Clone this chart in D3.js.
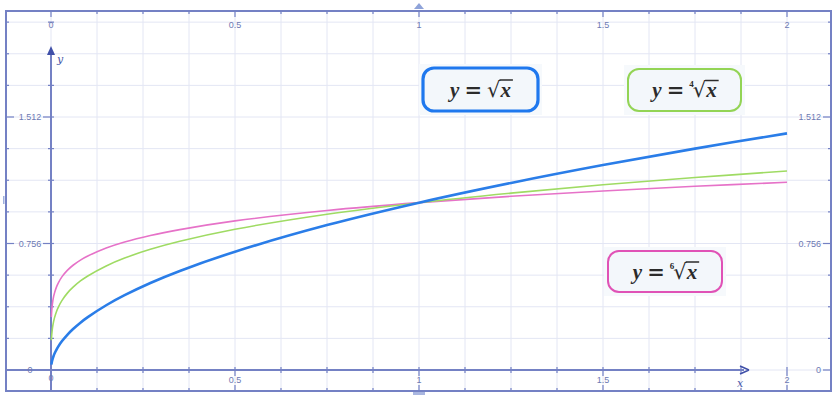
<!DOCTYPE html>
<html>
<head>
<meta charset="utf-8">
<script src="https://cdn.jsdelivr.net/npm/d3@7"></script>
<style>
  body { margin: 0; background: #fff; }
  svg { display: block; }
</style>
</head>
<body>
<svg width="832" height="396"></svg>
<script>
// values
const xVals = [0.001, 0.002, 0.004, 0.007, 0.01, 0.015, 0.02, 0.03, 0.045, 0.06, 0.08, 0.1, 0.15, 0.2, 0.27, 0.35, 0.5, 0.75, 1, 1.25, 1.5, 1.75, 2];
const sqrtVals = [0.032, 0.045, 0.063, 0.084, 0.1, 0.122, 0.141, 0.173, 0.212, 0.245, 0.283, 0.316, 0.387, 0.447, 0.52, 0.592, 0.707, 0.866, 1.0, 1.118, 1.225, 1.323, 1.414];
const root4Vals = [0.178, 0.211, 0.251, 0.289, 0.316, 0.35, 0.376, 0.416, 0.461, 0.495, 0.532, 0.562, 0.622, 0.669, 0.721, 0.769, 0.841, 0.931, 1.0, 1.057, 1.107, 1.15, 1.189];
const root6Vals = [0.316, 0.355, 0.398, 0.438, 0.464, 0.497, 0.521, 0.558, 0.597, 0.626, 0.657, 0.681, 0.729, 0.765, 0.804, 0.839, 0.891, 0.953, 1.0, 1.038, 1.07, 1.098, 1.122];
const xTickLabels = ["0", "0.5", "1", "1.5", "2"];
const yTickLabels = ["0", "0.756", "1.512"];

const svg = d3.select("svg");
const axisCol = "#7481c4";
const gridCol = "#e3e6f4";
const labelCol = "#6d79b3";

const xs = d3.scaleLinear().domain([0, 2]).range([51, 787]);
const ys = d3.scaleLinear().domain([0, 1.512]).range([370, 117]);

const frame = { l: 6, t: 11, r: 831, b: 391 };

// grid
const xGrid = d3.range(-7, 18).map(i => i * 0.125).filter(v => xs(v) > frame.l + 1 && xs(v) < frame.r - 1);
const yGrid = d3.range(-2, 14).map(i => i * 0.189).filter(v => ys(v) > frame.t + 1 && ys(v) < frame.b - 1);

const grid = svg.append("g");
grid.selectAll(".gx").data(xGrid).enter().append("line")
  .attr("x1", d => xs(d)).attr("x2", d => xs(d))
  .attr("y1", frame.t).attr("y2", frame.b)
  .attr("stroke", gridCol).attr("stroke-width", 1);
grid.selectAll(".gy").data(yGrid).enter().append("line")
  .attr("y1", d => ys(d)).attr("y2", d => ys(d))
  .attr("x1", frame.l).attr("x2", frame.r)
  .attr("stroke", gridCol).attr("stroke-width", 1);

// frame
svg.append("rect")
  .attr("x", frame.l).attr("y", frame.t)
  .attr("width", frame.r - frame.l).attr("height", frame.b - frame.t)
  .attr("fill", "none").attr("stroke", axisCol).attr("stroke-width", 2);

const isMajorX = v => Math.abs(v * 2 - Math.round(v * 2)) < 1e-6;
const isMajorY = v => Math.abs(v / 0.756 - Math.round(v / 0.756)) < 1e-6;

const ticks = svg.append("g").attr("stroke", axisCol).attr("stroke-width", 1.2);
// top + bottom frame ticks, x axis ticks
xGrid.forEach(v => {
  const len = isMajorX(v) ? 6 : 3;
  ticks.append("line").attr("x1", xs(v)).attr("x2", xs(v)).attr("y1", frame.t).attr("y2", frame.t + len);
  ticks.append("line").attr("x1", xs(v)).attr("x2", xs(v)).attr("y1", frame.b).attr("y2", frame.b - len);
  ticks.append("line").attr("x1", xs(v)).attr("x2", xs(v)).attr("y1", ys(0) - 3).attr("y2", ys(0) + (isMajorX(v) ? 6 : 3));
});
// left + right frame ticks, y axis ticks
yGrid.forEach(v => {
  const major = isMajorY(v);
  ticks.append("line").attr("y1", ys(v)).attr("y2", ys(v)).attr("x1", frame.l).attr("x2", frame.l + (major ? 8 : 3));
  ticks.append("line").attr("y1", ys(v)).attr("y2", ys(v)).attr("x1", frame.r).attr("x2", frame.r - (major ? 8 : 3));
  ticks.append("line").attr("y1", ys(v)).attr("y2", ys(v)).attr("x1", xs(0) - (major ? 8 : 3)).attr("x2", xs(0) + 3);
});

// axes
svg.append("line")
  .attr("x1", xs(0)).attr("x2", xs(0)).attr("y1", frame.b).attr("y2", 52)
  .attr("stroke", axisCol).attr("stroke-width", 2);
svg.append("path")
  .attr("d", `M${xs(0)},46 L${xs(0) - 4},55 L${xs(0) + 4},55 Z`)
  .attr("fill", "#3f4fa8");
svg.append("line")
  .attr("x1", frame.l).attr("x2", 744).attr("y1", ys(0)).attr("y2", ys(0))
  .attr("stroke", axisCol).attr("stroke-width", 2);
svg.append("path")
  .attr("d", `M749,${ys(0)} L740,${ys(0) - 4} M749,${ys(0)} L740,${ys(0) + 4}`)
  .attr("stroke", "#3f4fa8").attr("stroke-width", 1.5).attr("fill", "none");

svg.append("text").attr("x", 57).attr("y", 63).text("y")
  .attr("font-family", "DejaVu Serif").attr("font-style", "italic").attr("font-size", 11).attr("fill", "#4a57a8");
svg.append("text").attr("x", 737).attr("y", 387).text("x")
  .attr("font-family", "DejaVu Serif").attr("font-style", "italic").attr("font-size", 11).attr("fill", "#4a57a8");

// tick labels
const lab = svg.append("g").attr("font-family", "Liberation Sans, Arial, sans-serif")
  .attr("font-size", 9).attr("fill", labelCol);
xTickLabels.forEach(t => {
  const v = +t;
  lab.append("text").attr("x", xs(v)).attr("y", 28).attr("text-anchor", "middle").text(t);
  if (v !== 0) lab.append("text").attr("x", xs(v)).attr("y", 383).attr("text-anchor", "middle").text(t);
});
lab.append("text").attr("x", xs(0)).attr("y", 381).attr("text-anchor", "middle").text("0");
yTickLabels.forEach(t => {
  const v = +t;
  lab.append("text").attr("x", 30).attr("y", ys(v) + 3).attr("text-anchor", "middle").text(t);
  lab.append("text").attr("x", 821).attr("y", ys(v) + 3).attr("text-anchor", "end").text(t);
});

// scroll markers
svg.append("path").attr("d", "M414,9 L419,3 L424,9 Z").attr("fill", "#8fa3d9");
svg.append("rect").attr("x", 413).attr("y", 392).attr("width", 12).attr("height", 3).attr("fill", "#a9b6e0");
svg.append("rect").attr("x", 3).attr("y", 196).attr("width", 1.5).attr("height", 8).attr("fill", "#9fb0de");

// curves
const series = [
  { vals: root6Vals, color: "#e672c8", width: 1.6 },
  { vals: root4Vals, color: "#9fdb63", width: 1.6 },
  { vals: sqrtVals, color: "#2a7de8", width: 2.6 }
];
const line = d3.line().x(d => xs(d[0])).y(d => ys(d[1])).curve(d3.curveCatmullRom.alpha(0.5));
series.forEach(s => {
  svg.append("path")
    .datum(xVals.map((x, i) => [x, s.vals[i]]))
    .attr("fill", "none")
    .attr("stroke", s.color)
    .attr("stroke-width", s.width)
    .attr("d", line);
});

// formula labels
function formula(box, color, bw, index) {
  const g = svg.append("g");
  g.append("rect").attr("x", box.x - 4).attr("y", box.y - 4)
    .attr("width", box.w + 8).attr("height", box.h + 8).attr("fill", "#f6f9fc");
  g.append("rect").attr("x", box.x).attr("y", box.y).attr("width", box.w).attr("height", box.h)
    .attr("rx", 11).attr("ry", 11).attr("fill", "#f3f7fb")
    .attr("stroke", color).attr("stroke-width", bw);

  const t = g.append("g").attr("fill", "#2b2b2b");
  const fs = 21;
  let x = 0;
  const part = (txt, opts) => {
    const el = t.append("text").attr("x", x).attr("y", opts.dy || 0)
      .attr("font-family", opts.family || "DejaVu Serif")
      .attr("font-style", opts.italic ? "italic" : "normal")
      .attr("font-weight", opts.bold ? "bold" : "normal")
      .attr("font-size", opts.size || fs)
      .text(txt);
    const w = el.node().getComputedTextLength();
    const start = x;
    x += w + (opts.gap || 0);
    return { start, w };
  };
  part("y", { italic: true, bold: true, family: "Liberation Serif", gap: 5 });
  part("=", { bold: true, family: "DejaVu Serif", gap: 5 });
  if (index) part(index, { size: 9, dy: -10, bold: true, family: "Liberation Serif", gap: -1 });
  const rad = part("\u221A", { family: "DejaVu Serif", size: 21, gap: 0 });
  const xv = part("x", { italic: true, bold: true, family: "Liberation Serif" });
  t.append("line").attr("x1", rad.start + rad.w - 1).attr("x2", xv.start + xv.w + 2)
    .attr("y1", -16.5).attr("y2", -16.5).attr("stroke", "#2b2b2b").attr("stroke-width", 1.5);
  t.attr("transform", `translate(${box.x + box.w / 2 - x / 2},${box.y + box.h / 2 + 7})`);
}

formula({ x: 423, y: 68, w: 115, h: 43 }, "#1f78ee", 3.2, "");
formula({ x: 628, y: 69, w: 113, h: 42 }, "#93d455", 2, "4");
formula({ x: 608, y: 251, w: 114, h: 41 }, "#e052b6", 2, "6");
</script>
</body>
</html>
